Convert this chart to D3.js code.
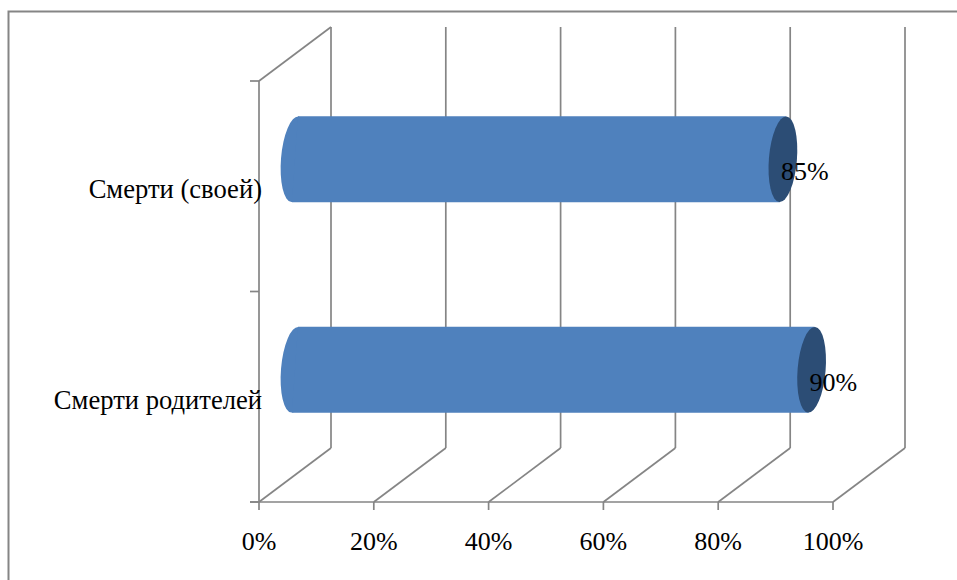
<!DOCTYPE html>
<html><head><meta charset="utf-8">
<script src="https://cdn.jsdelivr.net/npm/d3@7"></script>
<style>
html,body{margin:0;padding:0;background:#fff;}
svg{display:block;}
text{font-family:"Liberation Serif","Times New Roman",serif;fill:#000;}
</style></head>
<body>
<svg id="chart" width="957" height="580"></svg>
<script>
const categories = ["Смерти (своей)", "Смерти родителей"];
const values = [0.85, 0.90];
const tickValues = [0, 0.2, 0.4, 0.6, 0.8, 1.0];
const tickLabels = ["0%", "20%", "40%", "60%", "80%", "100%"];
const valueLabels = ["85%", "90%"];

const svg = d3.select("#chart");

// 3D geometry
const depthX = 72, depthY = -54;      // front -> back offset
const midX = depthX / 2, midY = depthY / 2;
const x = d3.scaleLinear().domain([0, 1]).range([259, 833]);
const y = d3.scaleBand().domain(categories).range([81, 502]).paddingInner(0).paddingOuter(0);
const gridColor = "#858585";
const barColor = "#4F81BD";
const capColor = "#2C4D75";
const lw = 1.7;

// chart border
svg.append("rect").attr("x", 8.5).attr("y", 11.5).attr("width", 970).attr("height", 600)
  .attr("fill", "none").attr("stroke", "#858585").attr("stroke-width", 2);

const g = svg.append("g");

// back wall vertical gridlines
g.selectAll("line.back").data(tickValues).join("line")
  .attr("x1", d => x(d) + depthX).attr("x2", d => x(d) + depthX)
  .attr("y1", y.range()[0] + depthY).attr("y2", y.range()[1] + depthY)
  .attr("stroke", gridColor).attr("stroke-width", lw);

// floor diagonals
g.selectAll("line.floor").data(tickValues).join("line")
  .attr("x1", d => x(d)).attr("y1", y.range()[1])
  .attr("x2", d => x(d) + depthX).attr("y2", y.range()[1] + depthY)
  .attr("stroke", gridColor).attr("stroke-width", lw);

// front x axis line
g.append("line").attr("x1", 250).attr("x2", x(1)).attr("y1", y.range()[1]).attr("y2", y.range()[1])
  .attr("stroke", gridColor).attr("stroke-width", lw);

// x ticks
g.selectAll("line.xt").data(tickValues).join("line")
  .attr("x1", d => x(d)).attr("x2", d => x(d))
  .attr("y1", y.range()[1]).attr("y2", y.range()[1] + 8)
  .attr("stroke", gridColor).attr("stroke-width", lw);

g.selectAll("text.xl").data(tickValues).join("text")
  .attr("x", d => x(d)).attr("y", 550)
  .attr("text-anchor", "middle").attr("font-size", 26)
  .text((d, i) => tickLabels[i]);

// left wall
g.append("line").attr("x1", x(0)).attr("x2", x(0)).attr("y1", y.range()[0]).attr("y2", y.range()[1])
  .attr("stroke", gridColor).attr("stroke-width", lw);
g.append("line").attr("x1", x(0)).attr("y1", y.range()[0]).attr("x2", x(0) + depthX).attr("y2", y.range()[0] + depthY)
  .attr("stroke", gridColor).attr("stroke-width", lw);
const yTicks = [y.range()[0], y.range()[0] + y.bandwidth(), y.range()[1]];
g.selectAll("line.yt").data(yTicks).join("line")
  .attr("x1", x(0) - 9).attr("x2", x(0)).attr("y1", d => d).attr("y2", d => d)
  .attr("stroke", gridColor).attr("stroke-width", lw);

// category labels
g.selectAll("text.cl").data(categories).join("text")
  .attr("x", 262).attr("y", d => y(d) + y.bandwidth() / 2 + 12)
  .attr("text-anchor", "end").attr("font-size", 26.6)
  .text(d => d);

// cylinders
const ry = 43, rxE = 14, tilt = 4.7, shift = 3;
const bars = g.selectAll("g.bar").data(categories).join("g");
bars.each(function(cat, i) {
  const sel = d3.select(this);
  const cy = y(cat) + y.bandwidth() / 2 + midY;
  const lx = x(0) + midX;
  const rx = x(values[i]) + midX;
  sel.append("ellipse").attr("cx", lx).attr("cy", cy).attr("rx", rxE).attr("ry", ry)
    .attr("transform", `rotate(${tilt},${lx},${cy})`).attr("fill", barColor);
  sel.append("path")
    .attr("d", `M${lx + shift},${cy - ry}L${rx + shift},${cy - ry}L${rx - shift},${cy + ry}L${lx - shift},${cy + ry}Z`)
    .attr("fill", barColor);
  sel.append("ellipse").attr("cx", rx).attr("cy", cy).attr("rx", rxE).attr("ry", ry)
    .attr("transform", `rotate(${tilt},${rx},${cy})`).attr("fill", capColor);
  sel.append("text").attr("x", rx - 2).attr("y", cy + 21).attr("font-size", 26)
    .text(valueLabels[i]);
});
</script>
</body></html>
